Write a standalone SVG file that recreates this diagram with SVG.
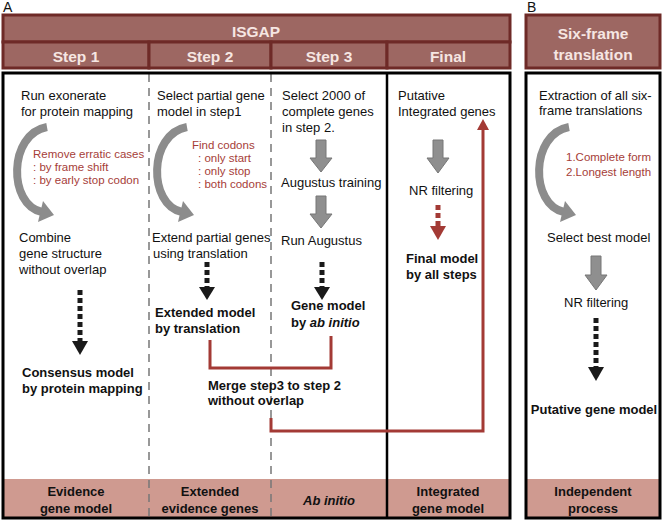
<svg xmlns="http://www.w3.org/2000/svg" width="662" height="523" viewBox="0 0 662 523">
<style>
text{font-family:"Liberation Sans",Arial,sans-serif;font-size:13px;fill:#111}
.b{font-weight:bold}
.i{font-style:italic}
.hd{font-weight:bold;font-size:15.5px;fill:#f6e6e2;text-anchor:middle}
.red{fill:#a63d38;font-size:11.5px}
.mid{text-anchor:middle}
.lbl{font-weight:bold;font-size:13px;text-anchor:middle}
.hbox{fill:#9d6762;stroke:#6e2a27;stroke-width:3}
.band{fill:#cf9a90}
.frame{fill:none;stroke:#000;stroke-width:3}
.dash{stroke:#777;stroke-width:1.5;stroke-dasharray:8,6}
.arc{fill:none;stroke:#8c8c8c;stroke-width:8}
.arch{fill:#8c8c8c}
.blk{fill:#8f8f8f;stroke:#777;stroke-width:1}
.dot{stroke:#1a1a1a;stroke-width:5;stroke-dasharray:5,3}
.doth{fill:#1a1a1a}
.rdot{stroke:#a33a35;stroke-width:5;stroke-dasharray:5,3}
.rline{fill:none;stroke:#a33a35;stroke-width:3}
</style>
<rect width="662" height="523" fill="#fff"/>

<text x="3" y="12" style="font-size:14px">A</text>
<text x="527" y="12" style="font-size:14px">B</text>

<g id="header-isgap">
<rect class="hbox" x="3" y="15" width="507" height="27"/>
<text class="hd" x="256" y="37">ISGAP</text>
</g>
<g id="header-steps">
<rect class="hbox" x="3" y="42" width="146" height="26"/>
<rect class="hbox" x="149" y="42" width="122" height="26"/>
<rect class="hbox" x="271" y="42" width="116" height="26"/>
<rect class="hbox" x="387" y="42" width="123" height="26"/>
<text class="hd" x="76" y="62">Step 1</text>
<text class="hd" x="210" y="62">Step 2</text>
<text class="hd" x="329" y="62">Step 3</text>
<text class="hd" x="448" y="62">Final</text>
</g>
<g id="header-b">
<rect class="hbox" x="526" y="15" width="134" height="53"/>
<text class="hd" x="593" y="39">Six-frame</text>
<text class="hd" x="593" y="60">translation</text>
</g>

<g id="frames">
<rect class="band" x="3" y="479" width="507" height="39"/>
<rect class="band" x="526" y="479" width="134" height="39"/>
<line class="dash" x1="149" y1="74" x2="149" y2="518"/>
<line class="dash" x1="271" y1="74" x2="271" y2="518"/>
<line x1="387" y1="73" x2="387" y2="518" stroke="#000" stroke-width="2.5"/>
<rect class="frame" x="3" y="73" width="507" height="445"/>
<rect class="frame" x="526" y="73" width="134" height="445"/>
</g>

<g id="bottom-labels">
<text class="lbl" x="76" y="496">Evidence</text>
<text class="lbl" x="76" y="513">gene model</text>
<text class="lbl" x="210" y="496">Extended</text>
<text class="lbl" x="210" y="513">evidence genes</text>
<text class="lbl i" x="329" y="505">Ab initio</text>
<text class="lbl" x="448" y="496">Integrated</text>
<text class="lbl" x="448" y="513">gene model</text>
<text class="lbl" x="593" y="496">Independent</text>
<text class="lbl" x="593" y="513">process</text>
</g>

<g id="step1">
<text x="21" y="100">Run exonerate</text>
<text x="21" y="116">for protein mapping</text>
<text class="red" x="33" y="158">Remove erratic cases</text>
<text class="red" x="33" y="171">: by frame shift</text>
<text class="red" x="33" y="184">: by early stop codon</text>
<text x="19" y="242">Combine</text>
<text x="19" y="258">gene structure</text>
<text x="19" y="274">without overlap</text>
<text class="b" x="22" y="377">Consensus model</text>
<text class="b" x="22" y="393">by protein mapping</text>
</g>

<g id="step2">
<text x="157" y="100">Select partial gene</text>
<text x="157" y="116">model in step1</text>
<text class="red" x="192" y="149">Find codons</text>
<text class="red" x="198" y="162">: only start</text>
<text class="red" x="198" y="175">: only stop</text>
<text class="red" x="198" y="188">: both codons</text>
<text x="152" y="242">Extend partial genes</text>
<text x="153" y="258">using translation</text>
<text class="b" x="155" y="317">Extended model</text>
<text class="b" x="155" y="333">by translation</text>
</g>

<g id="step3">
<text x="282" y="100">Select 2000 of</text>
<text x="282" y="116">complete genes</text>
<text x="282" y="132">in step 2.</text>
<text x="281" y="187">Augustus training</text>
<text x="281" y="245">Run Augustus</text>
<text class="b" x="291" y="310">Gene model</text>
<text class="b" x="291" y="327">by <tspan class="i">ab initio</tspan></text>
</g>

<g id="merge">
<text class="b" x="208" y="390">Merge step3 to step 2</text>
<text class="b" x="208" y="405">without overlap</text>
</g>

<g id="final">
<text x="398" y="100">Putative</text>
<text x="398" y="116">Integrated genes</text>
<text x="409" y="195">NR filtering</text>
<text class="b" x="406" y="263">Final model</text>
<text class="b" x="406" y="279">by all steps</text>
</g>

<g id="sixframe">
<text x="539" y="100">Extraction of all six-</text>
<text x="539" y="115">frame translations</text>
<text class="red" x="566" y="161">1.Complete form</text>
<text class="red" x="566" y="176">2.Longest length</text>
<text x="547" y="242">Select best model</text>
<text x="564" y="307">NR filtering</text>
<text class="b mid" x="594" y="414">Putative gene model</text>
</g>

<g id="connectors">
<path class="arc" d="M47 127 C8 134 8 205 42 212"/>
<polygon class="arch" points="43,201 38,222 54,215"/>
<path class="arc" d="M187 127 C148 134 148 205 182 212"/>
<polygon class="arch" points="183,201 178,222 194,215"/>
<path class="arc" d="M569 127 C530 134 530 205 564 212"/>
<polygon class="arch" points="565,201 560,222 576,215"/>
<path class="blk" d="M316 140 H326 V158 H332 L321 172 L310 158 H316 Z"/>
<path class="blk" d="M316 196 H326 V214 H332 L321 228 L310 214 H316 Z"/>
<path class="blk" d="M433 140 H443 V158 H449 L438 173 L427 158 H433 Z"/>
<path class="blk" d="M591 256 H601 V275 H607 L596 290 L585 275 H591 Z"/>
<line class="dot" x1="80" y1="290" x2="80" y2="341"/>
<polygon class="doth" points="72,341 88,341 80,355"/>
<line class="dot" x1="207" y1="262" x2="207" y2="287"/>
<polygon class="doth" points="199,287 215,287 207,300"/>
<line class="dot" x1="322" y1="262" x2="322" y2="287"/>
<polygon class="doth" points="314,287 330,287 322,300"/>
<line class="dot" x1="596" y1="318" x2="596" y2="367"/>
<polygon class="doth" points="588,367 604,367 596,381"/>
<line class="rdot" x1="438" y1="205" x2="438" y2="226"/>
<polygon points="430,226 446,226 438,240" fill="#a33a35"/>
<path class="rline" d="M210 340 V368 H331 V336"/>
<path class="rline" d="M271 418 V431 H483 V128"/>
<polygon points="477,130 489,130 483,119" fill="#a33a35"/>
</g>
</svg>
